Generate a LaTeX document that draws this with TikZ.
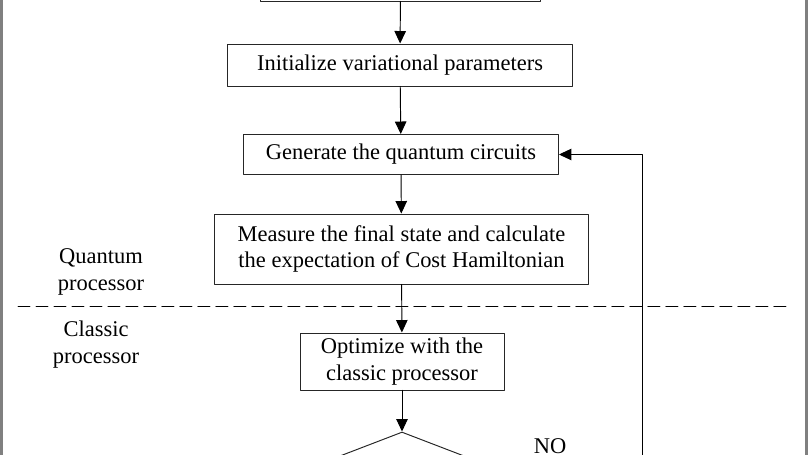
\documentclass[tikz,border=0pt]{standalone}
\usepackage{fontspec}
\setmainfont{Liberation Serif}
\usetikzlibrary{arrows.meta,shapes.geometric}

\begin{document}
\begin{tikzpicture}[x=0.02cm,y=-0.02cm,line cap=round,line join=round,
    >={Triangle[length=0.25cm,width=0.23cm]},
    every node/.style={inner sep=1pt,font=\fontsize{12.8pt}{15.3pt}\selectfont},
    procbox/.style={draw=black!85,line width=0.55pt,align=center,inner sep=0pt},
    flow/.style={->,line width=0.55pt}]
  \clip (0,0) rectangle (808,455);
  \draw[gray,line width=1.4pt] (1.3,-10) rectangle (806.5,465);
  % boxes of the flow
  \node[procbox,minimum width=5.62cm,minimum height=0.8cm] (start) at (400.5,-19) {};
  \node[procbox,minimum width=6.92cm,minimum height=0.84cm] (init) at (400,65) {Initialize variational parameters};
  \node[procbox,minimum width=6.3cm,minimum height=0.8cm] (gen) at (401,154.5) {Generate the quantum circuits};
  \node[procbox,minimum width=7.5cm,minimum height=1.4cm] (meas) at (401.5,249) {Measure the final state and calculate\\the expectation of Cost Hamiltonian};
  \node[procbox,minimum width=4.08cm,minimum height=1.14cm] (opt) at (402,361.5) {Optimize with the\\classic processor};
  \node[draw=black!85,line width=0.55pt,diamond,inner sep=0pt,minimum width=4.68cm,minimum height=1.8cm] (check) at (402,477) {};
  % processor labels
  \node[align=center] (qlab) at (101,272) {Quantum\\processor};
  \node[align=center] (clab) at (96,345) {Classic\\processor};
  \draw[line width=0.55pt,dash pattern=on 0.24cm off 0.12cm] (18,306) -- (790,306);
  % arrows
  \draw[flow] (start) -- (init);
  \draw[flow] (init) -- (gen);
  \draw[flow] (gen) -- (meas);
  \draw[flow] (meas) -- (opt);
  \draw[flow] (opt) -- (check);
  \coordinate (back) at (642,477);
  \draw[flow] (check.east) -- (back) |- (gen.east);
  \node[inner sep=0pt] (no) at (550,446) {NO};
\end{tikzpicture}
\end{document}
